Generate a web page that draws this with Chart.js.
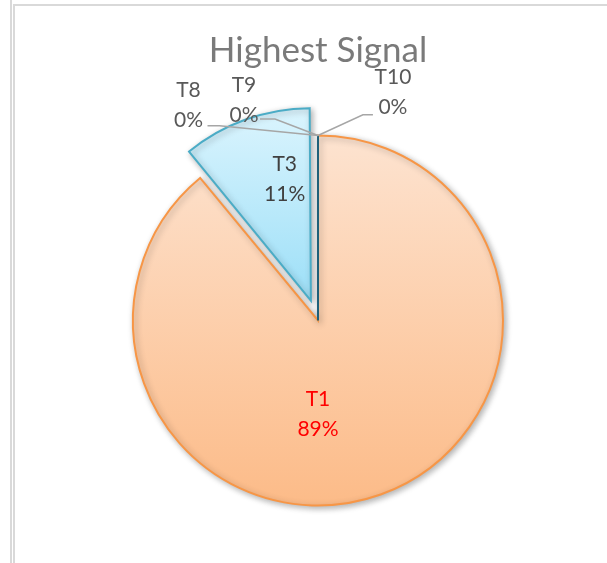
<!DOCTYPE html>
<html>
<head>
<meta charset="utf-8">
<script src="https://cdn.jsdelivr.net/npm/chart.js@4.4.1/dist/chart.umd.min.js"></script>
<style>
  html, body { margin: 0; padding: 0; background: #fff; }
  #wrap { position: relative; width: 607px; height: 563px; overflow: hidden; }
  .rule { position: absolute; background: #d9d9d9; }
  canvas { position: absolute; left: 0; top: 0; }
</style>
</head>
<body>
<div id="wrap">
  <div class="rule" style="left:10px;top:0;width:2px;height:563px"></div>
  <div class="rule" style="left:13px;top:4px;width:2px;height:559px"></div>
  <div class="rule" style="left:13px;top:4px;width:594px;height:2px"></div>
  <canvas id="chart" width="607" height="563"></canvas>
</div>
<script>
// data
const categories = ["T1", "T3", "T8", "T9", "T10"];
const shares = [89, 11, 0, 0, 0];

// look
const fillTop = ["#fde3d0", "#e0f6fe", "#4bacc6", "#4bacc6", "#4bacc6"];
const fillBottom = ["#fcbb88", "#a2e1f8", "#4bacc6", "#4bacc6", "#4bacc6"];
const edgeColors = ["#f79646", "#4bacc6", "#1f6079", "#1f6079", "#1f6079"];
const explode = [0, 84, 0, 0, 0];
// gradient span per slice, in pie radii from the centre (top, bottom)
const gradSpan = [[-1, 1], [-1.12, -0.1], [-1, 1], [-1, 1], [-1, 1]];

// label spots (first line baseline), in radii from the pie centre
const labelSpots = [
  { dx: 0, dy: 0.46, color: "#ff0000" },
  { dx: -0.18, dy: -0.81, color: "#404040" },
  { dx: -0.70, dy: -1.21, color: "#595959", lead: { sx: 19, sy: 29, elbow: 12 } },
  { dx: -0.40, dy: -1.235, color: "#595959", lead: { sx: 16, sy: 27, elbow: 15 } },
  { dx: 0.405, dy: -1.28, color: "#595959", lead: { sx: -20, sy: 31, elbow: -10 } }
];

const pieRadius = 185;

function sliceFill(ctx) {
  const i = ctx.dataIndex;
  const area = ctx.chart.chartArea;
  if (!area) return fillBottom[i];
  const cy = (area.top + area.bottom) / 2;
  const g = ctx.chart.ctx.createLinearGradient(0, cy + gradSpan[i][0] * pieRadius, 0, cy + gradSpan[i][1] * pieRadius);
  g.addColorStop(0, fillTop[i]);
  g.addColorStop(1, fillBottom[i]);
  return g;
}

const shadowPlugin = {
  id: "sliceShadow",
  beforeDatasetDraw(chart) {
    const c = chart.ctx;
    c.save();
    c.shadowColor = "rgba(0,0,0,0.3)";
    c.shadowBlur = 6;
    c.shadowOffsetX = 2;
    c.shadowOffsetY = 2;
  },
  afterDatasetDraw(chart) {
    chart.ctx.restore();
  }
};

const labelPlugin = {
  id: "sliceLabels",
  afterDatasetsDraw(chart) {
    const c = chart.ctx;
    const meta = chart.getDatasetMeta(0);
    const total = shares.reduce((a, b) => a + b, 0);
    const first = meta.data[0];
    const cx = first.x, cy = first.y, r = first.outerRadius;

    c.save();
    // edge of the zero slices, drawn where they sit
    const zero = meta.data[2];
    const tipX = cx + Math.cos(zero.startAngle) * r;
    const tipY = cy + Math.sin(zero.startAngle) * r;
    c.strokeStyle = edgeColors[2];
    c.lineWidth = 2;
    c.beginPath();
    c.moveTo(cx, cy);
    c.lineTo(tipX, tipY);
    c.stroke();

    c.font = "21px Lato";
    c.textAlign = "center";
    c.textBaseline = "alphabetic";
    categories.forEach((name, i) => {
      const spot = labelSpots[i];
      const lx = cx + spot.dx * r;
      const ly = cy + spot.dy * r;
      if (spot.lead) {
        const arc = meta.data[i];
        const ax = cx + Math.cos(arc.startAngle) * r;
        const ay = cy + Math.sin(arc.startAngle) * r;
        c.strokeStyle = "#a6a6a6";
        c.lineWidth = 1.5;
        c.beginPath();
        c.moveTo(lx + spot.lead.sx, ly + spot.lead.sy);
        c.lineTo(lx + spot.lead.sx + spot.lead.elbow, ly + spot.lead.sy);
        c.lineTo(ax, ay);
        c.stroke();
      }
      c.fillStyle = spot.color;
      c.fillText(name, lx, ly);
      c.fillText(Math.round(shares[i] / total * 100) + "%", lx, ly + 30);
    });
    c.restore();
  }
};

new Chart(document.getElementById("chart"), {
  type: "pie",
  data: {
    labels: categories,
    datasets: [{
      data: shares,
      backgroundColor: sliceFill,
      borderColor: edgeColors,
      borderWidth: 2,
      borderJoinStyle: "miter",
      offset: explode
    }]
  },
  options: {
    responsive: false,
    animation: false,
    radius: pieRadius,
    layout: { padding: { left: 29 } },
    plugins: {
      legend: { display: false },
      tooltip: { enabled: false },
      title: {
        display: true,
        text: "Highest Signal",
        color: "#7a7a7a",
        font: { family: "Lato", size: 35, weight: "normal" },
        padding: { top: 30, bottom: 6 }
      }
    }
  },
  plugins: [shadowPlugin, labelPlugin]
});
</script>
</body>
</html>
